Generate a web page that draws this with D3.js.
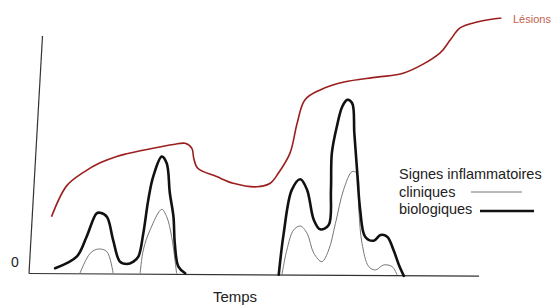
<!DOCTYPE html>
<html>
<head>
<meta charset="utf-8">
<script src="https://cdn.jsdelivr.net/npm/d3@7"></script>
<style>
  body { margin: 0; background: #fff; }
  svg { display: block; }
  text { font-family: "Liberation Sans", Arial, sans-serif; fill: #222; }
</style>
</head>
<body>
<div id="chart"></div>
<script>
// time (0-100) / level (0-100)
const lesions = [
  [5.0, 23.9], [8.4, 37.0], [12.1, 42.6], [15.8, 46.6], [19.5, 49.3], [21.7, 50.4],
  [26.2, 52.2], [32.1, 54.3], [34.7, 54.8], [36.2, 52.7], [36.6, 48.6], [37.5, 44.3],
  [41.7, 40.8], [45.4, 38.0], [50.6, 36.5], [53.6, 38.0], [55.4, 42.2], [58.0, 50.7],
  [59.6, 63.4], [61.3, 73.1], [64.7, 77.3], [70.0, 80.6], [77.3, 82.7], [83.3, 84.4],
  [91.3, 92.8], [93.6, 98.3], [95.8, 103.4], [99.6, 105.9], [105.0, 107.6]
];

// signes biologiques (thick)
const bioA = [
  [5.8, 2.2], [10.6, 7.1], [12.8, 15.5], [15.0, 25.3], [15.8, 25.6], [17.3, 23.9],
  [18.7, 14.1], [20.2, 5.0], [21.7, 4.0], [23.2, 5.0], [24.3, 7.1], [25.4, 16.9],
  [26.5, 30.9], [27.6, 40.8], [29.5, 49.2], [30.6, 46.4], [31.3, 33.8], [32.1, 23.9],
  [32.4, 12.7], [33.2, 2.9], [34.7, 0.1]
];
const bioB = [
  [55.5, -0.5], [56.6, 16.9], [58.4, 35.2], [60.3, 39.7], [61.8, 35.2], [63.3, 22.5],
  [64.7, 18.6], [66.6, 20.4], [67.1, 35.2], [67.3, 50.7], [68.4, 61.8], [69.6, 70.2],
  [70.7, 73.1], [71.8, 71.8], [72.3, 59.0], [72.9, 43.6], [73.6, 26.7], [74.7, 15.5],
  [76.6, 13.8], [78.1, 16.2], [79.6, 15.5], [81.0, 9.9], [82.2, 3.6], [83.3, -1.0]
];

// signes cliniques (thin)
const cliA1 = [[11.3, 0], [13.6, 8.5], [15.4, 10.3], [17.3, 9.2], [18.7, 0]];
const cliA2 = [[24.7, 0], [25.4, 9.9], [26.9, 18.3], [29.5, 27.0], [30.6, 23.9], [31.7, 15.5], [32.8, 0]];
const cliB = [
  [56.2, -0.6], [57.3, 9.9], [58.8, 18.3], [60.3, 20.0], [61.8, 16.9], [63.3, 8.5],
  [65.1, 5.0], [66.6, 9.9], [68.1, 21.1], [69.9, 35.2], [71.8, 42.9], [72.9, 42.2],
  [73.3, 26.7], [74.0, 12.7], [75.5, 2.9], [77.0, 1.5], [78.8, 3.6], [80.7, 2.9], [81.8, -0.6]
];

const legendTitle = "Signes inflammatoires";
const legendItems = ["cliniques", "biologiques"];

const width = 557, height = 307;
const svg = d3.select("#chart").append("svg")
    .attr("width", width)
    .attr("height", height);

const x = d3.scaleLinear().domain([0, 100]).range([29, 479]);
const y = d3.scaleLinear().domain([0, 100]).range([273.5, 36]);

const line = d3.line()
    .x(d => x(d[0]))
    .y(d => y(d[1]))
    .curve(d3.curveCatmullRom.alpha(0.5));

// axes (hand drawn, a little slanted)
svg.append("line")
    .attr("x1", x(3)).attr("y1", y(100))
    .attr("x2", x(0)).attr("y2", y(0))
    .attr("stroke", "#333").attr("stroke-width", 1.2);
svg.append("line")
    .attr("x1", x(0)).attr("y1", y(0))
    .attr("x2", x(100)).attr("y2", y(-1.1))
    .attr("stroke", "#333").attr("stroke-width", 1.2);

svg.append("text")
    .attr("x", 15).attr("y", 267)
    .attr("text-anchor", "middle")
    .style("font-size", "14px")
    .text("0");

svg.append("text")
    .attr("x", 235).attr("y", 302)
    .attr("text-anchor", "middle")
    .style("font-size", "15px")
    .text("Temps");

// thin clinical curves
[cliA1, cliA2, cliB].forEach(s => {
  svg.append("path")
      .attr("d", line(s))
      .attr("fill", "none")
      .attr("stroke", "#777")
      .attr("stroke-width", 1);
});

// thick biological curves
[bioA, bioB].forEach(s => {
  svg.append("path")
      .attr("d", line(s))
      .attr("fill", "none")
      .attr("stroke", "#111")
      .attr("stroke-width", 2.6)
      .attr("stroke-linejoin", "round")
      .attr("stroke-linecap", "round");
});

// lesions
svg.append("path")
    .attr("d", line(lesions))
    .attr("fill", "none")
    .attr("stroke", "#9c1f1f")
    .attr("stroke-width", 1.6);

svg.append("text")
    .attr("x", 513).attr("y", 23)
    .style("font-size", "11px")
    .style("fill", "#c0604c")
    .text("Lésions");

// legend
const lg = svg.append("g").attr("transform", "translate(399,179)");
lg.append("text").style("font-size", "14.5px").text(legendTitle);
lg.append("text").attr("y", 17.5).style("font-size", "14.5px").text(legendItems[0]);
lg.append("text").attr("y", 35).style("font-size", "14.5px").text(legendItems[1]);
lg.append("line")
    .attr("x1", 72).attr("x2", 123).attr("y1", 13).attr("y2", 13)
    .attr("stroke", "#777").attr("stroke-width", 1);
lg.append("line")
    .attr("x1", 81).attr("x2", 135).attr("y1", 32).attr("y2", 32)
    .attr("stroke", "#111").attr("stroke-width", 2.6);
</script>
</body>
</html>
